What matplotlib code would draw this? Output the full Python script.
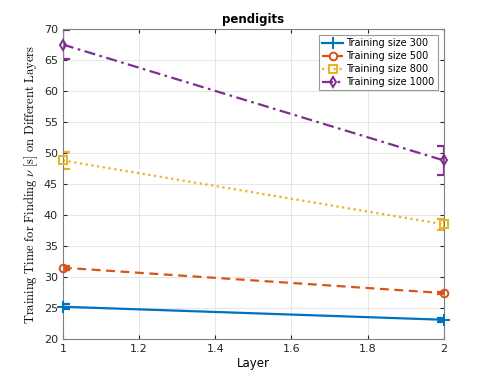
import matplotlib
matplotlib.use("Agg")
import matplotlib.pyplot as plt
from matplotlib.lines import Line2D

layers = [1, 2]
labels = ["Training size 300", "Training size 500", "Training size 800", "Training size 1000"]
t300 = [25.2, 23.1]
e300 = [0.4, 0.3]
t500 = [31.5, 27.4]
e500 = [0.3, 0.2]
t800 = [48.8, 38.5]
e800 = [1.4, 0.9]
t1000 = [67.5, 48.8]
e1000 = [2.3, 2.35]

colors = ["#0072BD", "#D95319", "#EDB120", "#7E2F8E"]
styles = ["-", (0, (4, 2.5)), (0, (1, 1.6)), (0, (5, 2, 1.2, 2))]
markers = ["+", "o", "s", "d"]
msizes = [8, 5.5, 5.5, 5.5]

plt.rcParams["mathtext.fontset"] = "cm"
fig = plt.figure(figsize=(4.91, 3.82), dpi=100)
ax = fig.add_axes([0.128, 0.1126, 0.776, 0.8114])

handles = []
for vals, errs, c, ls, m, ms, lab in zip([t300, t500, t800, t1000], [e300, e500, e800, e1000],
                                         colors, styles, markers, msizes, labels):
    ax.errorbar(layers, vals, yerr=errs, color=c, linestyle=ls, marker="none", linewidth=1.6,
                capsize=5, capthick=1.6, elinewidth=1.6)
    ax.plot(layers, vals, linestyle="none", marker=m, markersize=ms, markerfacecolor="none",
            markeredgecolor=c, markeredgewidth=1.4, clip_on=False, zorder=4)
    handles.append(Line2D([], [], color=c, linestyle=ls, marker=m, markersize=ms,
                          markerfacecolor="none", markeredgewidth=1.4, linewidth=1.6, label=lab))

ax.set_xlim(1, 2)
ax.set_ylim(20, 70)
ax.set_xticks([1, 1.2, 1.4, 1.6, 1.8, 2])
ax.set_xticklabels(["1", "1.2", "1.4", "1.6", "1.8", "2"])
ax.set_yticks(range(20, 71, 5))
ax.tick_params(direction="in", top=True, right=True, labelsize=8, colors="#262626", length=3)
ax.grid(True, color="#e6e6e6", linewidth=0.7)
ax.set_axisbelow(True)
for s in ax.spines.values():
    s.set_color("#808080")
    s.set_linewidth(0.8)

ax.set_title("pendigits", fontsize=8.5, fontweight="bold", pad=4)
ax.set_xlabel("Layer", fontsize=8.5, labelpad=2)
ax.set_ylabel(r"$\mathrm{Training\ Time\ for\ Finding\ }\nu\mathrm{\ [s]\ on\ Different\ Layers}$",
              fontsize=9, labelpad=3)

leg = ax.legend(handles=handles, loc="upper right", fontsize=7, frameon=True, fancybox=False,
                edgecolor="#808080", borderpad=0.35, labelspacing=0.3, handlelength=2.2,
                handletextpad=0.3, borderaxespad=0.6)
leg.get_frame().set_linewidth(0.8)

fig.savefig("out.png", dpi=100)
